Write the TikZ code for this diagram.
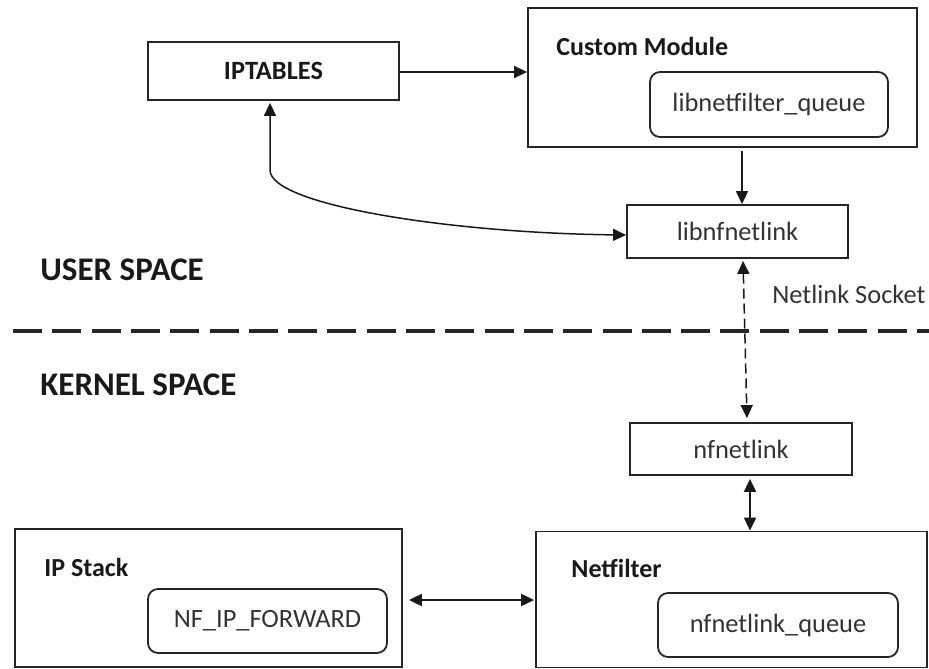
\documentclass[tikz,border=0pt]{standalone}
\usepackage{fontspec}
\setmainfont{Carlito}
\usetikzlibrary{arrows.meta}
\begin{document}
\begin{tikzpicture}[x=0.5pt,y=-0.5pt,
  box/.style={draw=black!85, line width=0.9pt, inner sep=0pt, fill=white},
  plainbox/.style={box, font=\fontsize{13.2}{15}\selectfont, text=black!80},
  roundbox/.style={plainbox, rounded corners=5pt},
  boxlabel/.style={anchor=west, inner sep=0pt, text=black!90, font=\fontsize{13}{15}\selectfont\bfseries},
  spacelabel/.style={anchor=west, inner sep=0pt, text=black!90, font=\fontsize{16.5}{19}\selectfont\bfseries},
  tip/.tip={Triangle[length=6.5pt,width=6pt]},
  arr/.style={-tip, line width=0.75pt, draw=black!90},
  darr/.style={tip-tip, line width=0.75pt, draw=black!90},
  darrthick/.style={tip-tip, line width=1pt, draw=black!90},
]
\useasboundingbox (0,0) rectangle (929,668);

% user space
\node[box, minimum width=125.5pt, minimum height=29pt, text=black!90,
      font=\fontsize{13.2}{15}\selectfont\bfseries] (iptables) at (273.5,71) {IPTABLES};
\node[box, minimum width=194.5pt, minimum height=69.5pt] (custom) at (722.5,77.5) {};
\node[boxlabel] (customlbl) at (556,46) {Custom Module};
\node[roundbox, minimum width=119pt, minimum height=32.5pt] (lnfq) at (769,104.5) {libnetfilter\_queue};
\node[plainbox, minimum width=110.5pt, minimum height=26.5pt] (lnl) at (737.5,231.5) {libnfnetlink};

% kernel space
\node[plainbox, minimum width=111pt, minimum height=26pt] (nfn) at (741,449) {nfnetlink};
\node[box, minimum width=193.5pt, minimum height=69pt] (ipstack) at (208.5,598) {};
\node[boxlabel] (ipstacklbl) at (44,567) {IP Stack};
\node[roundbox, minimum width=119.5pt, minimum height=32pt] (nfipfwd) at (267.5,621) {NF\_IP\_FORWARD};
\node[box, minimum width=195.5pt, minimum height=68pt] (netfilter) at (731.5,599.5) {};
\node[boxlabel] (netfilterlbl) at (571,568) {Netfilter};
\node[roundbox, minimum width=120pt, minimum height=32pt] (nfnlq) at (778,625) {nfnetlink\_queue};

% region labels and separator
\node[spacelabel] (userspace) at (40,270) {USER SPACE};
\node[spacelabel] (kernelspace) at (40,385) {KERNEL SPACE};
\node[anchor=west, inner sep=0pt, text=black!80, font=\fontsize{13.2}{15}\selectfont] (socketlbl) at (772,294) {Netlink Socket};
\coordinate (sepL) at (13,331);
\coordinate (sepR) at (929,331);
\draw[line width=2pt, draw=black!85, dash pattern=on 14.5pt off 5.15pt] (sepL) -- (sepR);

% helper coordinates for connector positions
\coordinate (xdown) at (742,0);
\coordinate (xsockA) at (743,0);
\coordinate (xsockB) at (747,0);
\coordinate (xnf) at (750,0);
\coordinate (xcurve) at (270,0);
\coordinate (bend) at (270,170);
\coordinate (yip) at (0,72);
\coordinate (ystack) at (0,600);

% connectors
\draw[arr] (iptables.east |- yip) -- (custom.west |- yip);
\draw[arr] ([yshift=-1.5pt]custom.south -| xdown) -- (lnl.north -| xdown);
\draw[darr] ([yshift=-1pt]iptables.south -| xcurve) -- (bend)
  .. controls (270,205) and (450,233) .. ([yshift=-1.75pt]lnl.west);
\draw[darr, dash pattern=on 5pt off 2.5pt] ([yshift=-1pt]lnl.south -| xsockA) -- ([yshift=2pt]nfn.north -| xsockB);
\draw[darrthick] ([yshift=-1.5pt]nfn.south -| xnf) -- (netfilter.north -| xnf);
\draw[darrthick] ([xshift=3pt]ipstack.east |- ystack) -- ([xshift=-0.5pt]netfilter.west |- ystack);
\end{tikzpicture}
\end{document}
